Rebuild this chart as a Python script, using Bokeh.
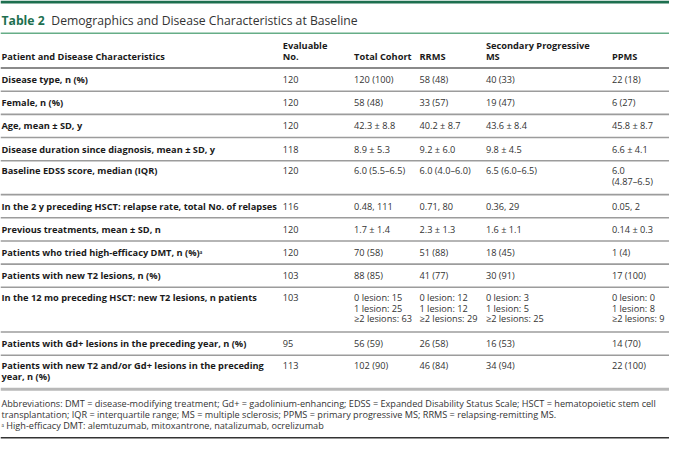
from bokeh.plotting import figure
from bokeh.models import Range1d, ColumnDataSource
from bokeh.embed import file_html
from bokeh.resources import INLINE
from bokeh.core.properties import value

# ---------------- data ----------------
title_bold = "Table 2"
title_rest = "Demographics and Disease Characteristics at Baseline"

headers = ["Patient and Disease Characteristics", "Evaluable\nNo.", "Total Cohort",
           "RRMS", "Secondary Progressive\nMS", "PPMS"]

characteristics = [
    "Disease type, n (%)",
    "Female, n (%)",
    "Age, mean \u00b1 SD, y",
    "Disease duration since diagnosis, mean \u00b1 SD, y",
    "Baseline EDSS score, median (IQR)",
    "In the 2 y preceding HSCT: relapse rate, total No. of relapses",
    "Previous treatments, mean \u00b1 SD, n",
    "Patients who tried high-efficacy DMT, n (%)\u1d43",
    "Patients with new T2 lesions, n (%)",
    "In the 12 mo preceding HSCT: new T2 lesions, n patients",
    "Patients with Gd+ lesions in the preceding year, n (%)",
    "Patients with new T2 and/or Gd+ lesions in the preceding\nyear, n (%)",
]
evaluable = ["120", "120", "120", "118", "120", "116", "120", "120", "103", "103", "95", "113"]
total_cohort = ["120 (100)", "58 (48)", "42.3 \u00b1 8.8", "8.9 \u00b1 5.3", "6.0 (5.5\u20136.5)",
                "0.48, 111", "1.7 \u00b1 1.4", "70 (58)", "88 (85)",
                "0 lesion: 15\n1 lesion: 25\n\u22652 lesions: 63", "56 (59)", "102 (90)"]
rrms = ["58 (48)", "33 (57)", "40.2 \u00b1 8.7", "9.2 \u00b1 6.0", "6.0 (4.0\u20136.0)",
        "0.71, 80", "2.3 \u00b1 1.3", "51 (88)", "41 (77)",
        "0 lesion: 12\n1 lesion: 12\n\u22652 lesions: 29", "26 (58)", "46 (84)"]
spms = ["40 (33)", "19 (47)", "43.6 \u00b1 8.4", "9.8 \u00b1 4.5", "6.5 (6.0\u20136.5)",
        "0.36, 29", "1.6 \u00b1 1.1", "18 (45)", "30 (91)",
        "0 lesion: 3\n1 lesion: 5\n\u22652 lesions: 25", "16 (53)", "34 (94)"]
ppms = ["22 (18)", "6 (27)", "45.8 \u00b1 8.7", "6.6 \u00b1 4.1", "6.0\n(4.87\u20136.5)",
        "0.05, 2", "0.14 \u00b1 0.3", "1 (4)", "17 (100)",
        "0 lesion: 0\n1 lesion: 8\n\u22652 lesions: 9", "14 (70)", "22 (100)"]

footnotes = [
    "Abbreviations: DMT = disease-modifying treatment; Gd+ = gadolinium-enhancing; EDSS = Expanded Disability Status Scale; HSCT = hematopoietic stem cell",
    "transplantation; IQR = interquartile range; MS = multiple sclerosis; PPMS = primary progressive MS; RRMS = relapsing-remitting MS.",
    "\u1d43 High-efficacy DMT: alemtuzumab, mitoxantrone, natalizumab, ocrelizumab",
]

# ---------------- layout (reference pixel space) ----------------
W, H = 685, 457
col_x = [1, 289, 362, 429, 497, 626]
FONT = value("Open Sans")
GREEN = "#1d6f4f"
LH = 11.2          # line spacing inside a cell
ROW_H = 24.0       # single-line row height
BOLD_SIZE = "9.25px"
BODY = "9.2px"

p = figure(width=669, height=441, output_backend="svg", toolbar_location=None,
           x_range=Range1d(0, W), y_range=Range1d(H, 0),
           x_axis_type=None, y_axis_type=None, min_border=0,
           outline_line_color=None)
p.grid.visible = False
p.background_fill_color = "white"

# top bar and title
p.quad(left=[0], right=[W], top=[0], bottom=[3.2], fill_color=GREEN, line_color=None)
p.text(x=[1], y=[21], text=[title_bold], text_font=FONT, text_font_style="bold",
       text_font_size="12.2px", text_color=GREEN, text_baseline="middle")
p.text(x=[52], y=[21], text=[title_rest], text_font=FONT,
       text_font_size="12.2px", text_color="#333333", text_baseline="middle")
p.segment(x0=[0], x1=[W], y0=[34], y1=[34], line_color="#66ad87", line_width=1.4)

# header (last line of each header cell centred at y=58)
hx, hy, ht = [], [], []
for i, h in enumerate(headers):
    parts = h.split("\n")
    for k, part in enumerate(parts):
        hx.append(col_x[i])
        hy.append(58 - LH * (len(parts) - 1 - k))
        ht.append(part)
p.text(x=hx, y=hy, text=ht, text_font=FONT, text_font_style="bold",
       text_font_size=BOLD_SIZE, text_color="#1a1a1a", text_baseline="middle")
p.segment(x0=[0], x1=[W], y0=[70], y1=[70], line_color="#8a8a8a", line_width=2)

# rows
cols = [characteristics, evaluable, total_cohort, rrms, spms, ppms]
tops = []
y = 70.0
for r in range(len(characteristics)):
    n = max(c[r].count("\n") + 1 for c in cols)
    tops.append((y, n))
    y += ROW_H + LH * (n - 1)
row_bottom = y

bold = dict(x=[], y=[], t=[])
reg = dict(x=[], y=[], t=[])
for ci, col in enumerate(cols):
    d = bold if ci == 0 else reg
    for r, (top, n) in enumerate(tops):
        first = top + (12.0 if n == 1 else 10.4)
        for k, part in enumerate(col[r].split("\n")):
            d["x"].append(col_x[ci])
            d["y"].append(first + LH * k)
            d["t"].append(part)

p.text(x="x", y="y", text="t", source=ColumnDataSource(bold), text_font=FONT,
       text_font_style="bold", text_font_size=BOLD_SIZE, text_color="#1a1a1a",
       text_baseline="middle")
p.text(x="x", y="y", text="t", source=ColumnDataSource(reg), text_font=FONT,
       text_font_size=BODY, text_color="#333333", text_baseline="middle")

sep = [t for t, n in tops[1:]]
p.segment(x0=[0] * len(sep), x1=[W] * len(sep), y0=sep, y1=sep,
          line_color="#9c9c9c", line_width=1.6)
p.segment(x0=[0], x1=[W], y0=[row_bottom], y1=[row_bottom], line_color="#b8b8b8", line_width=3)

# footnotes
fy = [row_bottom + 15 + LH * i for i in range(len(footnotes))]
p.text(x=[1] * len(footnotes), y=fy, text=footnotes, text_font=FONT,
       text_font_size="9.15px", text_color="#333333", text_baseline="middle")
p.segment(x0=[0], x1=[W], y0=[453], y1=[453], line_color="#333333", line_width=1.5)

open("out.html", "w").write(file_html(p, INLINE))
